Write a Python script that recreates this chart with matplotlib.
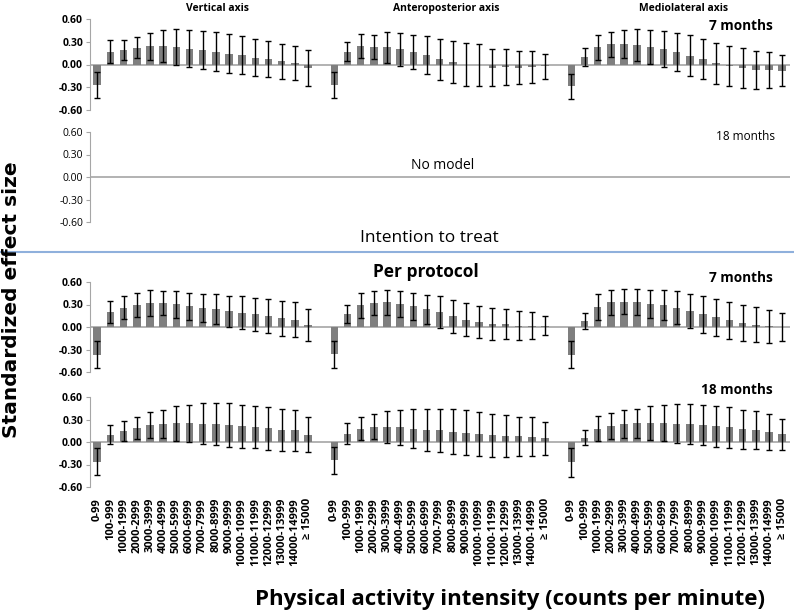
import matplotlib.pyplot as plt
import numpy as np

categories = ['0-99', '100-999', '1000-1999', '2000-2999', '3000-3999', '4000-4999',
              '5000-5999', '6000-6999', '7000-7999', '8000-8999', '9000-9999',
              '10000-10999', '11000-11999', '12000-12999', '13000-13999',
              '14000-14999', '\u2265 15000']
axis_names = ['Vertical axis', 'Anteroposterior axis', 'Mediolateral axis']

# intention to treat, 7 months: effect size and CI half-width
itt7_vt = [-0.27, 0.17, 0.19, 0.22, 0.24, 0.24, 0.23, 0.21, 0.195, 0.17, 0.145, 0.12, 0.09, 0.07, 0.04, 0.02, -0.05]
itt7_vt_ci = [0.17, 0.15, 0.135, 0.14, 0.18, 0.21, 0.235, 0.24, 0.25, 0.255, 0.255, 0.25, 0.24, 0.235, 0.23, 0.23, 0.235]
itt7_ap = [-0.27, 0.17, 0.245, 0.23, 0.225, 0.20, 0.16, 0.12, 0.07, 0.03, 0.0, -0.01, -0.04, -0.035, -0.04, -0.035, -0.025]
itt7_ap_ci = [0.17, 0.13, 0.16, 0.16, 0.205, 0.22, 0.225, 0.25, 0.27, 0.28, 0.28, 0.28, 0.25, 0.24, 0.22, 0.21, 0.16]
itt7_ml = [-0.29, 0.095, 0.225, 0.27, 0.27, 0.26, 0.235, 0.205, 0.165, 0.115, 0.07, 0.015, -0.015, -0.045, -0.07, -0.075, -0.08]
itt7_ml_ci = [0.16, 0.12, 0.16, 0.165, 0.18, 0.21, 0.225, 0.24, 0.255, 0.27, 0.265, 0.27, 0.265, 0.26, 0.25, 0.235, 0.21]

# per protocol, 7 months
pp7_vt = [-0.37, 0.20, 0.26, 0.295, 0.32, 0.32, 0.305, 0.28, 0.255, 0.235, 0.21, 0.19, 0.17, 0.145, 0.115, 0.10, 0.03]
pp7_vt_ci = [0.18, 0.145, 0.15, 0.16, 0.17, 0.165, 0.18, 0.18, 0.19, 0.20, 0.21, 0.22, 0.22, 0.225, 0.23, 0.23, 0.215]
pp7_ap = [-0.365, 0.17, 0.29, 0.32, 0.33, 0.305, 0.275, 0.235, 0.20, 0.145, 0.10, 0.07, 0.04, 0.045, 0.02, 0.02, 0.02]
pp7_ap_ci = [0.18, 0.12, 0.165, 0.165, 0.17, 0.17, 0.18, 0.195, 0.21, 0.22, 0.22, 0.215, 0.21, 0.20, 0.19, 0.18, 0.13]
pp7_ml = [-0.37, 0.08, 0.27, 0.33, 0.34, 0.33, 0.31, 0.29, 0.26, 0.215, 0.17, 0.13, 0.09, 0.06, 0.03, 0.01, 0.0]
pp7_ml_ci = [0.18, 0.11, 0.175, 0.17, 0.17, 0.175, 0.185, 0.20, 0.215, 0.23, 0.245, 0.25, 0.25, 0.24, 0.235, 0.22, 0.185]

# per protocol, 18 months
pp18_vt = [-0.26, 0.10, 0.145, 0.19, 0.225, 0.24, 0.25, 0.25, 0.245, 0.235, 0.225, 0.21, 0.20, 0.185, 0.165, 0.155, 0.10]
pp18_vt_ci = [0.18, 0.13, 0.135, 0.15, 0.17, 0.19, 0.23, 0.245, 0.27, 0.28, 0.29, 0.29, 0.285, 0.285, 0.28, 0.27, 0.23]
pp18_ap = [-0.24, 0.11, 0.18, 0.205, 0.20, 0.195, 0.18, 0.165, 0.155, 0.14, 0.125, 0.105, 0.09, 0.08, 0.075, 0.07, 0.05]
pp18_ap_ci = [0.18, 0.14, 0.155, 0.17, 0.21, 0.23, 0.26, 0.28, 0.285, 0.30, 0.30, 0.29, 0.285, 0.275, 0.26, 0.26, 0.22]
pp18_ml = [-0.27, 0.06, 0.18, 0.215, 0.24, 0.25, 0.255, 0.255, 0.245, 0.24, 0.23, 0.21, 0.195, 0.17, 0.16, 0.14, 0.105]
pp18_ml_ci = [0.19, 0.105, 0.17, 0.17, 0.185, 0.195, 0.225, 0.245, 0.26, 0.265, 0.265, 0.27, 0.27, 0.26, 0.255, 0.24, 0.205]

yticks = [0.6, 0.3, 0.0, -0.3, -0.6]

W, H = 794, 615
fig = plt.figure(figsize=(W / 100, H / 100), dpi=100)
plt.rcParams['font.family'] = ['Open Sans', 'DejaVu Sans']

n = len(categories)
xpos = [np.arange(n) + g * (n + 1) for g in range(3)]


def make_axes(top_px, bottom_px, bold=True):
    ax = fig.add_axes([90 / W, 1 - bottom_px / H, 700 / W, (bottom_px - top_px) / H])
    ax.set_xlim(-0.55, 3 * n + 1.6)
    ax.set_ylim(-0.6, 0.6)
    for s in ['top', 'right', 'bottom']:
        ax.spines[s].set_visible(False)
    ax.spines['left'].set_color('#a6a6a6')
    ax.axhline(0, color='#a6a6a6', lw=1.2, zorder=1)
    ax.set_yticks(yticks)
    ax.set_yticklabels(['%.2f' % t for t in yticks], fontsize=7.5,
                       fontweight='bold' if bold else 'normal')
    ax.tick_params(axis='y', length=3, color='#a6a6a6', pad=2)
    ax.set_xticks([])
    return ax


def draw_bars(ax, series, cis):
    for g in range(3):
        ax.bar(xpos[g], series[g], width=0.57, color='#7f7f7f', zorder=2)
        ax.errorbar(xpos[g], series[g], yerr=cis[g], fmt='none', ecolor='black',
                    elinewidth=1, capsize=2.5, capthick=1, zorder=3)


ax1 = make_axes(19, 110)
draw_bars(ax1, [itt7_vt, itt7_ap, itt7_ml], [itt7_vt_ci, itt7_ap_ci, itt7_ml_ci])
ax1.text(0.976, 0.92, '7 months', transform=ax1.transAxes, ha='right', va='center',
         fontsize=9.8, fontweight='bold')

ax2 = make_axes(132, 222, bold=False)
ax2.text(0.979, 0.95, '18 months', transform=ax2.transAxes, ha='right', va='center', fontsize=8.5)
ax2.text((443 - 90) / 700, 0.63, 'No model', transform=ax2.transAxes, ha='center',
         va='center', fontsize=10)

ax3 = make_axes(282, 372)
draw_bars(ax3, [pp7_vt, pp7_ap, pp7_ml], [pp7_vt_ci, pp7_ap_ci, pp7_ml_ci])
ax3.text(0.976, 1.05, '7 months', transform=ax3.transAxes, ha='right', va='center',
         fontsize=9.8, fontweight='bold')

ax4 = make_axes(397, 487)
draw_bars(ax4, [pp18_vt, pp18_ap, pp18_ml], [pp18_vt_ci, pp18_ap_ci, pp18_ml_ci])
ax4.text(0.976, 1.08, '18 months', transform=ax4.transAxes, ha='right', va='center',
         fontsize=9.8, fontweight='bold')
ax4.set_xticks(np.concatenate(xpos))
ax4.set_xticklabels(categories * 3, rotation=90, fontsize=8, fontweight='bold')
ax4.tick_params(axis='x', length=0, pad=8)

title_shift = [1.1, 0.5, 0.5]
for g, name in enumerate(axis_names):
    ax1.text(xpos[g].mean() + title_shift[g], 0.66, name, ha='center', va='bottom',
             fontsize=7.5, fontweight='bold')

fig.text(429 / W, 1 - 238 / H, 'Intention to treat', ha='center', va='center', fontsize=12.5)
fig.add_artist(plt.Line2D([0, 1], [1 - 252 / H, 1 - 252 / H], color='#8fb0dc', lw=1.5))
fig.text(426 / W, 1 - 272 / H, 'Per protocol', ha='center', va='center',
         fontsize=12.5, fontweight='bold')

fig.text(12 / W, 1 - 300 / H, 'Standardized effect size', rotation=90, ha='center',
         va='center', fontsize=14.5, fontweight='bold', family='DejaVu Sans')
fig.text(510 / W, 1 - 600 / H, 'Physical activity intensity (counts per minute)',
         ha='center', va='center', fontsize=16, fontweight='bold')

fig.savefig('out.png', dpi=100)
